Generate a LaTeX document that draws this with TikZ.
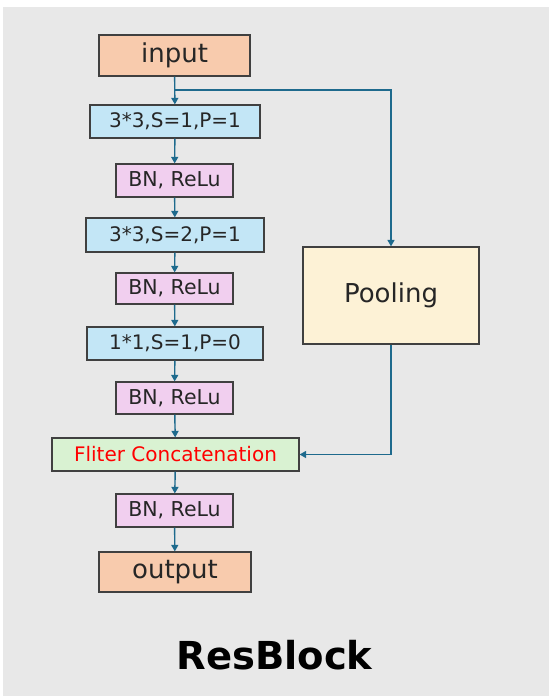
\documentclass[tikz,border=0pt]{standalone}
\usepackage{fontspec}
\setmainfont{DejaVu Sans}
\usetikzlibrary{arrows.meta}
\definecolor{bgc}{HTML}{E8E8E8}
\definecolor{ioc}{HTML}{F8CBAD}
\definecolor{convc}{HTML}{C3E6F6}
\definecolor{bnc}{HTML}{F1CFEF}
\definecolor{catc}{HTML}{D9F2D2}
\definecolor{poolc}{HTML}{FDF2D6}
\definecolor{edgec}{HTML}{404040}
\definecolor{arrc}{HTML}{1E6A8D}
\tikzset{
  box/.style={draw=edgec, line width=1.2pt, inner sep=0pt, text=black!85},
  iobox/.style={box, fill=ioc, minimum width=151pt, minimum height=41pt, font=\fontsize{26}{28}\selectfont},
  convbox/.style={box, fill=convc, minimum height=33pt, font=\fontsize{20}{22}\selectfont},
  bnbox/.style={box, fill=bnc, minimum width=117pt, minimum height=33pt, font=\fontsize{20.5}{22}\selectfont},
  conn/.style={draw=arrc, line width=1.4pt, -{Triangle[length=6.5pt,width=7pt]}},
}
\begin{document}
\begin{tikzpicture}[x=1pt,y=-1pt]
\fill[white] (0,0) rectangle (555,696);
\fill[bgc] (3,7) rectangle (549,696);
\useasboundingbox (0,0) rectangle (555,696);

\node[iobox] (input) at (174.5,55.5) {input};
\node[convbox, minimum width=170pt] (c1) at (175,121.5) {3*3,S=1,P=1};
\node[bnbox] (b1) at (174.5,180.5) {BN, ReLu};
\node[convbox, minimum width=178pt, minimum height=34pt] (c2) at (175,235) {3*3,S=2,P=1};
\node[bnbox, minimum height=31pt] (b2) at (174.5,288.5) {BN, ReLu};
\node[convbox, minimum width=176pt] (c3) at (175,343.5) {1*1,S=1,P=0};
\node[bnbox, minimum height=32pt] (b3) at (174.5,398) {BN, ReLu};
\node[box, fill=catc, minimum width=247pt, minimum height=33pt, text=red, font=\fontsize{20}{22}\selectfont] (cat) at (175.5,454.5) {Fliter Concatenation};
\node[bnbox] (b4) at (174.5,510.5) {BN, ReLu};
\node[iobox, minimum width=152pt, minimum height=40pt] (output) at (175,572) {output};
\node[box, fill=poolc, minimum width=176pt, minimum height=97pt, font=\fontsize{26}{28}\selectfont] (pool) at (391,295.5) {Pooling};
\node[font=\bfseries\fontsize{38.5}{42}\selectfont] (title) at (274.5,655) {ResBlock};

\coordinate (br) at (175,90);
\draw[conn] (input) -- (c1);
\draw[conn] (br) -| (pool.north);
\draw[conn] (c1) -- (b1);
\draw[conn] (b1) -- (c2);
\draw[conn] (c2) -- (b2);
\draw[conn] (b2) -- (c3);
\draw[conn] (c3) -- (b3);
\draw[conn] (b3) -- (cat);
\draw[conn] (pool.south) |- (cat.east);
\draw[conn] (cat) -- (b4);
\draw[conn] (b4) -- (output);
\end{tikzpicture}
\end{document}
